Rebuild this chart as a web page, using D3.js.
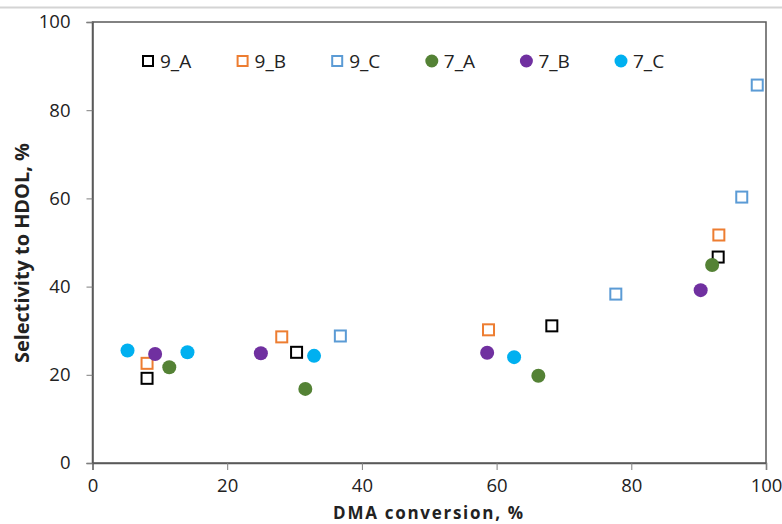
<!DOCTYPE html>
<html><head><meta charset="utf-8">
<script src="https://cdn.jsdelivr.net/npm/d3@7"></script>
<style>body{margin:0;background:#fff}svg{display:block}text{font-family:"Open Sans",sans-serif}</style>
</head><body><svg id="c" width="782" height="524"></svg>
<script>
const seriesNames = ["9_A","9_B","9_C","7_A","7_B","7_C"];
const x9A = [8.1, 30.3, 68.2, 92.9];
const y9A = [19.2, 25.1, 31.1, 46.7];
const x9B = [8.1, 28.1, 58.8, 93.0];
const y9B = [22.6, 28.6, 30.2, 51.7];
const x9C = [36.8, 77.7, 96.4, 98.7];
const y9C = [28.8, 38.3, 60.3, 85.7];
const x7A = [11.4, 31.6, 66.2, 92.0];
const y7A = [21.7, 16.8, 19.8, 44.9];
const x7B = [9.3, 25.0, 58.6, 90.3];
const y7B = [24.7, 24.9, 25.0, 39.2];
const x7C = [5.2, 14.1, 32.9, 62.6];
const y7C = [25.5, 25.1, 24.3, 24.0];
const xTicks = [0,20,40,60,80,100];
const yTicks = [0,20,40,60,80,100];

const series = [
  {name:seriesNames[0], xs:x9A, ys:y9A, shape:"square", color:"#000000"},
  {name:seriesNames[1], xs:x9B, ys:y9B, shape:"square", color:"#ED7D31"},
  {name:seriesNames[2], xs:x9C, ys:y9C, shape:"square", color:"#5B9BD5"},
  {name:seriesNames[3], xs:x7A, ys:y7A, shape:"circle", color:"#548235"},
  {name:seriesNames[4], xs:x7B, ys:y7B, shape:"circle", color:"#7030A0"},
  {name:seriesNames[5], xs:x7C, ys:y7C, shape:"circle", color:"#00B0F0"}
];

const svg = d3.select("#c");
const L=92.5, R=766, T=22, B=463;
const x = d3.scaleLinear().domain([0,100]).range([L,R]);
const y = d3.scaleLinear().domain([0,100]).range([B,T]);

svg.append("line").attr("x1",0).attr("x2",782).attr("y1",7.5).attr("y2",7.5)
  .attr("stroke","#d4d4d4").attr("stroke-width",2);

svg.append("rect").attr("x",L).attr("y",T).attr("width",R-L).attr("height",B-T)
  .attr("fill","none").attr("stroke","#595959").attr("stroke-width",1.5);

const xa = svg.append("g").attr("transform",`translate(0,${B})`)
  .call(d3.axisBottom(x).tickValues(xTicks).tickSize(7).tickPadding(9).tickFormat(d3.format("d")));
const ya = svg.append("g").attr("transform",`translate(${L},0)`)
  .call(d3.axisLeft(y).tickValues(yTicks).tickSize(6).tickPadding(16).tickFormat(d3.format("d")));
[xa,ya].forEach(a=>{
  a.select(".domain").attr("stroke","#595959").attr("stroke-width",1.5);
  a.selectAll(".tick line").attr("stroke","#7f7f7f");
  a.selectAll("text").attr("font-size",18.5).attr("fill","#222").attr("font-family","'Open Sans',sans-serif");
});

function drawMarker(g, shape, color, cx, cy, big){
  if(shape==="square"){
    const s = big?11:10;
    g.append("rect").attr("x",cx-s/2).attr("y",cy-s/2).attr("width",s).attr("height",s)
      .attr("fill","#fff").attr("stroke",color).attr("stroke-width",2);
  } else {
    g.append("circle").attr("cx",cx).attr("cy",cy).attr("r",big?7:6.5).attr("fill",color);
  }
}

const pts = svg.append("g");
series.forEach(s=>{
  s.xs.forEach((xv,i)=>drawMarker(pts, s.shape, s.color, x(xv), y(s.ys[i]), true));
});

const leg = svg.append("g");
series.forEach((s,i)=>{
  const cx = 148 + i*94.6;
  drawMarker(leg, s.shape, s.color, cx, 61, false);
  leg.append("text").attr("x",cx+12).attr("y",61).attr("dy","0.36em")
    .attr("font-size",19).attr("fill","#222").text(s.name);
});

function fit(t, target){
  const w = t.node().getComputedTextLength();
  const fs = +t.attr("font-size");
  t.attr("font-size", fs*target/w);
}
function spread(t, target){
  const w = t.node().getComputedTextLength();
  const n = t.text().length;
  if (w < target) t.attr("letter-spacing", ((target - w)/(n-1)).toFixed(2));
}
const xl = svg.append("text").attr("x",429).attr("y",518.5).attr("text-anchor","middle")
  .attr("font-size",17).attr("font-weight","bold").attr("fill","#222").text("DMA conversion, %");
spread(xl,190);
const yl = svg.append("text").attr("transform",`translate(29,253) rotate(-90)`).attr("text-anchor","middle")
  .attr("font-size",16).attr("font-weight","bold").attr("fill","#222").text("Selectivity to HDOL, %");
fit(yl,220);
</script></body></html>
